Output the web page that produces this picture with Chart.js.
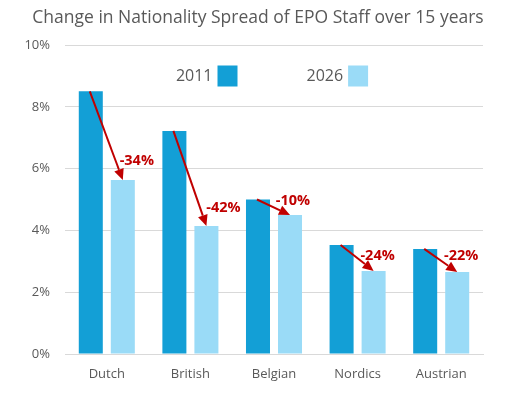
<!DOCTYPE html>
<html>
<head>
<meta charset="utf-8">
<script src="https://cdn.jsdelivr.net/npm/chart.js@4"></script>
<style>
  html, body { margin: 0; padding: 0; background: #fff; }
  #wrap { width: 525px; height: 400px; }
</style>
</head>
<body>
<div id="wrap"><canvas id="c" width="525" height="400"></canvas></div>
<script>
const categories = ["Dutch", "British", "Belgian", "Nordics", "Austrian"];
const series2011 = [8.5, 7.22, 5.0, 3.53, 3.4];
const series2026 = [5.63, 4.14, 4.5, 2.69, 2.65];
const seriesNames = ["2011", "2026"];
const changeLabels = ["-34%", "-42%", "-10%", "-24%", "-22%"];
const yTicks = [0, 2, 4, 6, 8, 10];
const titleText = "Change in Nationality Spread of EPO Staff over 15 years";

const FONT = "'Open Sans', 'Noto Sans', sans-serif";
const GRAY = "#595959";
const RED = "#C00000";
// label offsets relative to the top centre of each 2026 bar (annotation placement)
const labelOffsets = [[14, -19], [17, -18], [3, -14], [4, -15], [4, -16]];

const titlePlugin = {
  id: "centredTitle",
  afterDraw(chart) {
    const ctx = chart.ctx;
    ctx.save();
    ctx.font = "17.5px " + FONT;
    ctx.fillStyle = GRAY;
    ctx.textAlign = "center";
    ctx.textBaseline = "middle";
    ctx.fillText(titleText, 258, 18);
    ctx.restore();
  }
};

const arrowPlugin = {
  id: "arrows",
  afterDatasetsDraw(chart) {
    const ctx = chart.ctx;
    const m0 = chart.getDatasetMeta(0).data;
    const m1 = chart.getDatasetMeta(1).data;
    ctx.save();
    for (let i = 0; i < m0.length; i++) {
      const x0 = m0[i].x - 1, y0 = m0[i].y;
      const x1 = m1[i].x, y1 = m1[i].y;
      const ang = Math.atan2(y1 - y0, x1 - x0);
      const headLen = 11, headW = 5;
      const bx = x1 - headLen * Math.cos(ang), by = y1 - headLen * Math.sin(ang);
      ctx.strokeStyle = RED;
      ctx.fillStyle = RED;
      ctx.lineWidth = 2;
      ctx.beginPath();
      ctx.moveTo(x0, y0);
      ctx.lineTo(bx, by);
      ctx.stroke();
      ctx.beginPath();
      ctx.moveTo(x1, y1);
      ctx.lineTo(bx + headW * Math.sin(ang), by - headW * Math.cos(ang));
      ctx.lineTo(bx - headW * Math.sin(ang), by + headW * Math.cos(ang));
      ctx.closePath();
      ctx.fill();
      ctx.font = "bold 14.5px " + FONT;
      ctx.textAlign = "center";
      ctx.textBaseline = "middle";
      ctx.fillText(changeLabels[i], x1 + labelOffsets[i][0], y1 + labelOffsets[i][1]);
    }
    ctx.restore();
  }
};

const legendPlugin = {
  id: "inlineLegend",
  afterDraw(chart) {
    const ctx = chart.ctx;
    const ca = chart.chartArea;
    ctx.save();
    ctx.font = "16px " + FONT;
    ctx.textBaseline = "middle";
    ctx.textAlign = "left";
    const box = 20, gapTB = 5, gapItems = 69;
    const items = chart.data.datasets.map(d => ({ text: d.label, color: d.backgroundColor, w: ctx.measureText(d.label).width }));
    let total = 0;
    items.forEach((it, k) => { total += it.w + gapTB + box + (k < items.length - 1 ? gapItems : 0); });
    let x = (ca.left + ca.right) / 2 - total / 2 - 2;
    const yc = ca.top + 31;
    items.forEach(it => {
      ctx.fillStyle = GRAY;
      ctx.fillText(it.text, x, yc);
      x += it.w + gapTB;
      ctx.fillStyle = it.color;
      ctx.fillRect(x, yc - 10.5, box, 21);
      x += box + gapItems;
    });
    ctx.restore();
  }
};

new Chart(document.getElementById("c"), {
  type: "bar",
  data: {
    labels: categories,
    datasets: [
      { label: seriesNames[0], data: series2011, backgroundColor: "#139FD6", borderWidth: 0,
        categoryPercentage: 0.766, barPercentage: 0.75 },
      { label: seriesNames[1], data: series2026, backgroundColor: "#9ADBF7", borderWidth: 0,
        categoryPercentage: 0.766, barPercentage: 0.75 }
    ]
  },
  options: {
    responsive: false,
    animation: false,
    devicePixelRatio: 1,
    layout: { padding: { left: 0, right: 42, top: 45, bottom: 0 } },
    plugins: {
      legend: { display: false },
      tooltip: { enabled: false },
      title: { display: false }
    },
    scales: {
      x: {
        grid: { display: false, drawTicks: false },
        border: { display: true, color: "#D9D9D9", width: 1 },
        ticks: { color: GRAY, font: { family: FONT, size: 13 }, padding: 12 },
        afterFit(s) { s.height = 46; }
      },
      y: {
        min: 0, max: 10,
        afterBuildTicks(s) { s.ticks = yTicks.map(v => ({ value: v })); },
        grid: { color: "#D9D9D9", lineWidth: 1, drawTicks: false },
        border: { display: false },
        ticks: { color: GRAY, font: { family: FONT, size: 13 }, padding: 15,
                 callback: v => v + "%" },
        afterFit(s) { s.width = 65; }
      }
    }
  },
  plugins: [arrowPlugin, legendPlugin, titlePlugin]
});
</script>
</body>
</html>
